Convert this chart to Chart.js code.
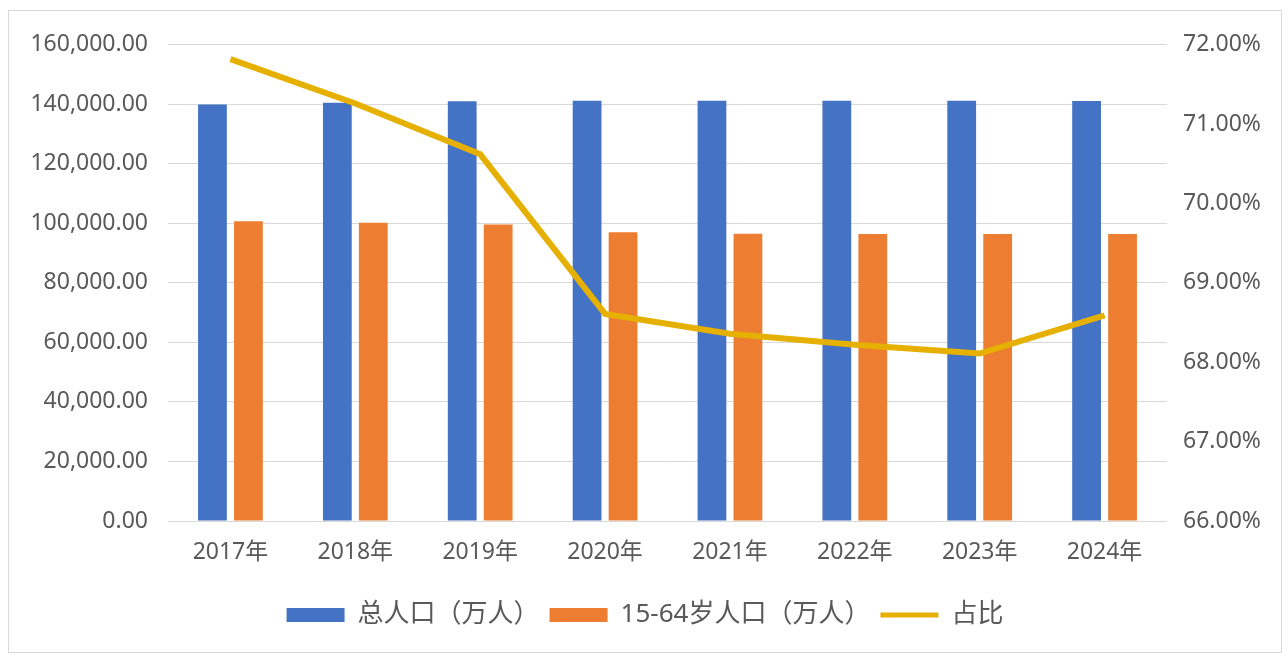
<!DOCTYPE html>
<html>
<head>
<meta charset="utf-8">
<script src="https://cdn.jsdelivr.net/npm/chart.js@4.4.1/dist/chart.umd.min.js"></script>
<style>
  html, body { margin: 0; padding: 0; background: #fff; }
  #frame { position: absolute; left: 8px; top: 10px; width: 1272px; height: 641px; border: 1px solid #d9d9d9; }
  #chart { display: block; }
</style>
</head>
<body>
<div id="frame"><canvas id="chart" width="1272" height="641"></canvas></div>
<script>
const years = ['2017年', '2018年', '2019年', '2020年', '2021年', '2022年', '2023年', '2024年'];
const totalPop = [139900, 140500, 141000, 141200, 141200, 141200, 141200, 141100];
const workingPop = [100700, 100200, 99600, 97000, 96500, 96400, 96400, 96400];
const ratio = [71.82, 71.26, 70.62, 68.61, 68.36, 68.22, 68.11, 68.59];
const seriesNames = ['总人口（万人）', '15-64岁人口（万人）', '占比'];

const textColor = '#595959';
const tickFont = { family: "'Noto Sans', 'Noto Sans CJK SC', sans-serif", size: 23 };

const ctx = document.getElementById('chart').getContext('2d');
const chart = new Chart(ctx, {
  type: 'bar',
  data: {
    labels: years,
    datasets: [
      {
        label: seriesNames[0],
        data: totalPop,
        backgroundColor: '#4472C4',
        categoryPercentage: 0.576,
        barPercentage: 0.8,
        yAxisID: 'y',
        order: 1
      },
      {
        label: seriesNames[1],
        data: workingPop,
        backgroundColor: '#ED7D31',
        categoryPercentage: 0.576,
        barPercentage: 0.8,
        yAxisID: 'y',
        order: 1
      },
      {
        type: 'line',
        label: seriesNames[2],
        data: ratio,
        borderColor: '#E6B000',
        backgroundColor: '#E6B000',
        borderWidth: 6,
        pointRadius: 0,
        tension: 0,
        yAxisID: 'y1',
        order: 0
      }
    ]
  },
  options: {
    responsive: false,
    animation: false,
    layout: { padding: { top: 32, left: 0, right: 0, bottom: 14 } },
    plugins: {
      tooltip: { enabled: false },
      legend: {
        position: 'bottom',
        labels: {
          usePointStyle: true,
          pointStyleWidth: 58,
          boxHeight: 14,
          padding: 10,
          color: textColor,
          font: { family: "'Noto Sans', 'Noto Sans CJK SC', sans-serif", size: 26 },
          generateLabels: function (chart) {
            return chart.data.datasets.map((ds, i) => ({
              text: ds.label,
              fillStyle: ds.backgroundColor,
              strokeStyle: ds.type === 'line' ? ds.borderColor : ds.backgroundColor,
              lineWidth: ds.type === 'line' ? 5 : 0,
              pointStyle: ds.type === 'line' ? 'line' : 'rect',
              fontColor: textColor,
              hidden: false,
              datasetIndex: i
            }));
          }
        }
      }
    },
    scales: {
      x: {
        grid: { display: false },
        border: { display: false },
        ticks: { color: textColor, font: tickFont, padding: 10, maxRotation: 0 },
        afterFit: function (scale) { scale.height = 71; }
      },
      y: {
        position: 'left',
        min: 0,
        max: 160000,
        ticks: {
          stepSize: 20000,
          color: textColor,
          font: tickFont,
          padding: 20,
          callback: v => v.toLocaleString('en-US', { minimumFractionDigits: 2, maximumFractionDigits: 2 })
        },
        grid: { color: '#d9d9d9', lineWidth: 1, drawTicks: false },
        border: { display: false },
        afterFit: function (scale) { scale.width = 159; }
      },
      y1: {
        position: 'right',
        min: 66,
        max: 72,
        ticks: {
          stepSize: 1,
          color: textColor,
          font: tickFont,
          padding: 16,
          callback: v => v.toFixed(2) + '%'
        },
        grid: { display: false, drawTicks: false },
        border: { display: false },
        afterFit: function (scale) { scale.width = 114; }
      }
    }
  }
});
</script>
</body>
</html>
